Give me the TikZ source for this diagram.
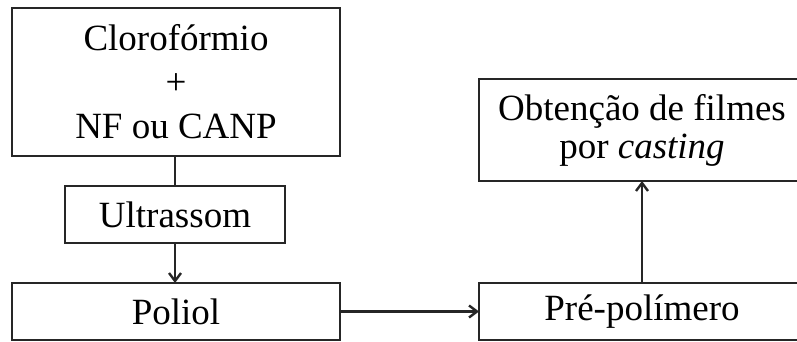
\documentclass[tikz,border=0pt]{standalone}
\usepackage{fontspec}
\setmainfont{Liberation Serif}
\usetikzlibrary{arrows.meta}
\begin{document}
\begin{tikzpicture}[x=1pt,y=-1pt,
  box/.style={draw=black!85, line width=2.6pt, inner sep=0pt, outer sep=0pt,
    font=\fontsize{37}{44}\selectfont, align=center},
  conn/.style={draw=black!85, line width=2.6pt},
  arr/.style={conn, -{Straight Barb[length=8pt,width=12pt,line width=2.4pt]}}]
\useasboundingbox (0,0) rectangle (797,342);
\clip (0,0) rectangle (797,342);
\node[box, minimum width=328pt, minimum height=148pt] (clo) at (176,82)
  {Clorofórmio\\+\\NF ou CANP};
\node[box, minimum width=220pt, minimum height=57pt] (ult) at (175,214.5) {Ultrassom};
\node[box, minimum width=328pt, minimum height=57pt] (pol) at (176,311.5) {Poliol};
\node[box, minimum width=326pt, minimum height=102pt, font=\fontsize{37}{38}\selectfont] (obt) at (642,130)
  {Obtenção de filmes\\por \textit{casting}};
\node[box, minimum width=326pt, minimum height=57pt] (pre) at (642,311.5) {Pré-polímero};
\draw[conn] (clo.south -| ult.north) -- (ult.north);
\draw[arr] (ult.south) -- (ult.south |- pol.north);
\draw[arr] (pol.east) -- (pre.west);
\draw[arr] (pre.north) -- (obt.south);
\end{tikzpicture}
\end{document}
